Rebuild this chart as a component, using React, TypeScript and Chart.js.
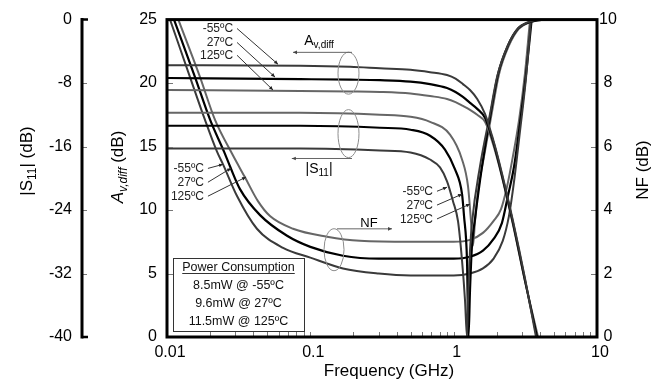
import { useEffect, useRef } from 'react';
import { Chart, registerables } from 'chart.js';
Chart.register(...registerables);

const FONT = "'Liberation Sans', Arial, Helvetica, sans-serif";

// ---------- data ----------
const xTickValues = [0.01, 0.1, 1, 10];
const minorDecades = [0.01, 0.1, 1];
const avInnerTicks = [5, 10, 15, 20];
const nfInnerTicks = [2, 4, 6, 8];
const s11InnerTicks = [-8, -16, -24, -32];
const temps = ['-55ºC', '27ºC', '125ºC'];
const powerLines = ['8.5mW @ -55ºC', '9.6mW @ 27ºC', '11.5mW @ 125ºC'];

// Av,diff (dB)
const avFreqM55 = [0.01, 0.085, 0.19, 0.306, 0.5, 0.684, 0.899, 1.03, 1.16, 1.3, 1.46, 1.654, 1.851, 2.072, 2.594, 3.146, 3.754];
const avM55 = [21.4, 21.37, 21.29, 21.17, 21.05, 20.86, 20.63, 20.35, 19.92, 19.45, 18.75, 17.58, 15.86, 13.83, 9.14, 4.61, 0];
const avFreq27 = [0.01, 0.085, 0.19, 0.306, 0.5, 0.684, 0.899, 1.03, 1.16, 1.3, 1.46, 1.654, 1.851, 2.072, 2.594, 3.146, 3.815];
const av27 = [20.4, 20.31, 20.27, 20.23, 20.12, 19.92, 19.61, 19.3, 18.91, 18.44, 17.97, 17.27, 15.7, 13.67, 8.98, 4.45, 0];
const avFreq125 = [0.01, 0.085, 0.19, 0.306, 0.5, 0.684, 0.899, 1.03, 1.16, 1.3, 1.46, 1.654, 1.851, 2.072, 2.594, 3.146, 3.88];
const av125 = [19.45, 19.38, 19.34, 19.3, 19.18, 18.98, 18.75, 18.5, 18.2, 17.89, 17.5, 16.95, 15.47, 13.52, 8.83, 4.38, 0];

// |S11| (dB)
const s11FreqM55 = [0.01, 0.085, 0.306, 0.5, 0.684, 0.803, 0.899, 0.989, 1.072, 1.144, 1.2, 1.239, 1.259, 1.3, 1.342, 1.526, 1.793, 2.006, 2.356, 2.767, 3.249, 4.34, 10];
const s11M55 = [-16.25, -16.25, -16.5, -16.75, -17.63, -18.63, -20.38, -22.88, -25.38, -30.38, -35.38, -40, -35.38, -29.13, -25.63, -18.5, -11.88, -7.25, -3.5, -1.25, -0.38, 0, 0];
const s11Freq27 = [0.01, 0.085, 0.306, 0.5, 0.684, 0.87, 1.022, 1.144, 1.181, 1.239, 1.269, 1.3, 1.342, 1.409, 1.577, 1.822, 2.039, 2.394, 2.811, 3.302, 4.48, 10];
const s1127 = [-13.38, -13.38, -13.63, -13.88, -14.63, -16.38, -18.88, -22.0, -24.75, -30.38, -40, -34.13, -28.5, -25.13, -18.5, -11.63, -6.88, -3.25, -1.13, -0.38, 0, 0];
const s11Freq125 = [0.01, 0.085, 0.306, 0.5, 0.684, 0.943, 1.144, 1.259, 1.321, 1.364, 1.409, 1.479, 1.628, 1.851, 2.072, 2.433, 2.856, 3.356, 4.7, 10];
const s11125 = [-11.75, -11.75, -12.0, -12.25, -12.88, -14.5, -17.63, -21.0, -25.38, -28.5, -25.38, -21.63, -17.25, -11.63, -6.88, -3.25, -1.13, -0.38, 0, 0];

// NF (dB)
const nfFreqM55 = [0.0105, 0.01447, 0.01841, 0.02233, 0.0246, 0.0308, 0.0424, 0.0645, 0.1, 0.169, 0.3, 0.5, 1.0, 1.3, 1.6, 1.9, 2.2, 2.43, 2.64, 2.9, 3.2, 3.46];
const nfM55 = [10, 8.19, 6.84, 5.84, 5.44, 4.44, 3.41, 2.81, 2.5, 2.16, 2.0, 1.94, 1.94, 2.0, 2.16, 2.47, 3.03, 3.81, 4.91, 6.47, 8.19, 10];
const nfFreq27 = [0.01119, 0.01568, 0.02, 0.025, 0.0275, 0.0323, 0.0446, 0.0688, 0.1, 0.169, 0.3, 0.5, 1.0, 1.3, 1.6, 1.9, 2.17, 2.39, 2.64, 2.9, 3.2, 3.5];
const nf27 = [10, 8.19, 6.84, 5.84, 5.38, 4.66, 3.84, 3.19, 2.84, 2.56, 2.47, 2.47, 2.47, 2.53, 2.72, 3.09, 3.59, 4.44, 5.38, 6.72, 8.28, 10];
const nfFreq125 = [0.012, 0.017, 0.02163, 0.0284, 0.035, 0.0431, 0.0523, 0.0757, 0.1307, 0.222, 0.5, 1.0, 1.3, 1.6, 1.9, 2.14, 2.36, 2.59, 2.86, 3.15, 3.41];
const nf125 = [10, 8.19, 6.84, 5.78, 5.03, 4.28, 3.81, 3.41, 3.16, 3.03, 3.0, 3.0, 3.06, 3.28, 3.66, 4.03, 4.75, 5.69, 6.84, 8.34, 10];

// annotations in data coordinates (frequency GHz, value on the Av axis)
const ellipses = [
  { f: 0.1846, v: 20.78, rx: 10.5, ry: 21 },
  { f: 0.1846, v: 16.02, rx: 10.5, ry: 24 },
  { f: 0.1463, v: 6.875, rx: 10, ry: 21 },
];
const groupArrows = [
  { from: [0.1953, 22.42], to: [0.0757, 22.42] },
  { from: [0.1953, 14.06], to: [0.0743, 14.06] },
  { from: [0.1535, 8.52], to: [0.3713, 8.52] },
];
const tempGroups = [
  { textF: 0.0289, startF: 0.0308, rows: [24.3, 23.2, 22.19], tips: [[0.0595, 21.48], [0.0567, 20.47], [0.0549, 19.45]] },
  { textF: 0.01811, startF: 0.0193, rows: [13.28, 12.19, 11.09], tips: [[0.0246, 13.6], [0.028, 13.3], [0.0356, 12.6]] },
  { textF: 0.7176, startF: 0.765, rows: [11.48, 10.39, 9.3], tips: [[0.899, 11.8], [1.144, 11.25], [1.3, 10.47]] },
];

const colors = ['#3a3a3a', '#000000', '#666666'];

type Seg = { t: string; size: number; italic?: boolean; dy?: number };

function drawRich(ctx: CanvasRenderingContext2D, segs: Seg[], cx: number, cy: number, rot: number, base: number) {
  ctx.save();
  ctx.translate(cx, cy);
  ctx.rotate(rot);
  const widths = segs.map((s) => {
    ctx.font = `${s.italic ? 'italic ' : ''}${s.size}px ${FONT}`;
    return ctx.measureText(s.t).width;
  });
  const total = widths.reduce((a, b) => a + b, 0);
  let x = -total / 2;
  ctx.textAlign = 'left';
  ctx.textBaseline = 'alphabetic';
  ctx.fillStyle = '#000';
  segs.forEach((s, i) => {
    ctx.font = `${s.italic ? 'italic ' : ''}${s.size}px ${FONT}`;
    ctx.fillText(s.t, x, base * 0.36 + (s.dy || 0));
    x += widths[i];
  });
  ctx.restore();
}

function arrow(ctx: CanvasRenderingContext2D, x1: number, y1: number, x2: number, y2: number, head: number) {
  ctx.beginPath();
  ctx.moveTo(x1, y1);
  ctx.lineTo(x2, y2);
  ctx.stroke();
  const a = Math.atan2(y2 - y1, x2 - x1);
  const w = head * 0.45;
  ctx.beginPath();
  ctx.moveTo(x2, y2);
  ctx.lineTo(x2 - head * Math.cos(a) + w * Math.sin(a), y2 - head * Math.sin(a) - w * Math.cos(a));
  ctx.lineTo(x2 - head * Math.cos(a) - w * Math.sin(a), y2 - head * Math.sin(a) + w * Math.cos(a));
  ctx.closePath();
  ctx.fill();
}

const decor = {
  id: 'decor',
  afterDraw(chart: any) {
    const ctx: CanvasRenderingContext2D = chart.ctx;
    const { left, right, top, bottom } = chart.chartArea;
    const xs = chart.scales.x;
    const ya = chart.scales.y;
    const ys = chart.scales.yS11;
    const yn = chart.scales.yNF;
    const X = (f: number) => xs.getPixelForValue(f);
    const Y = (v: number) => ya.getPixelForValue(v);
    ctx.save();

    // inner ticks
    ctx.strokeStyle = '#777';
    ctx.lineWidth = 1;
    ctx.beginPath();
    minorDecades.forEach((d) => {
      for (let m = 1; m <= 9; m++) {
        const f = d * m;
        if (f <= 0.01) continue;
        const px = Math.round(X(f)) + 0.5;
        ctx.moveTo(px, bottom);
        ctx.lineTo(px, bottom - 5);
      }
    });
    avInnerTicks.forEach((v) => {
      const py = Math.round(Y(v)) + 0.5;
      ctx.moveTo(left, py);
      ctx.lineTo(left + 6, py);
    });
    nfInnerTicks.forEach((v) => {
      const py = Math.round(yn.getPixelForValue(v)) + 0.5;
      ctx.moveTo(right, py);
      ctx.lineTo(right - 6, py);
    });
    const sx = ys.right;
    s11InnerTicks.forEach((v) => {
      const py = Math.round(ys.getPixelForValue(v)) + 0.5;
      ctx.moveTo(sx, py);
      ctx.lineTo(sx + 5, py);
    });
    ctx.stroke();

    // frame
    ctx.strokeStyle = '#000';
    ctx.lineWidth = 3;
    ctx.strokeRect(left, top, right - left, bottom - top);

    // S11 axis line with end caps
    ctx.beginPath();
    ctx.moveTo(sx, top - 1.5);
    ctx.lineTo(sx, bottom + 1.5);
    ctx.stroke();
    ctx.lineWidth = 2.5;
    ctx.beginPath();
    ctx.moveTo(sx, top);
    ctx.lineTo(sx + 6, top);
    ctx.moveTo(sx, bottom);
    ctx.lineTo(sx + 6, bottom);
    ctx.stroke();

    // ellipses
    ctx.strokeStyle = '#8c8c8c';
    ctx.lineWidth = 1;
    ellipses.forEach((e) => {
      ctx.beginPath();
      ctx.ellipse(X(e.f), Y(e.v), e.rx, e.ry, 0, 0, Math.PI * 2);
      ctx.stroke();
    });

    // group arrows
    ctx.strokeStyle = '#666';
    ctx.fillStyle = '#444';
    groupArrows.forEach((a) => arrow(ctx, X(a.from[0]), Y(a.from[1]), X(a.to[0]), Y(a.to[1]), 4));

    // group labels
    drawRich(ctx, [{ t: 'A', size: 14 }, { t: 'v,diff', size: 10, dy: 3 }], X(0.115), Y(23.36), 0, 14);
    drawRich(ctx, [{ t: '|S', size: 14 }, { t: '11', size: 10, dy: 3 }, { t: '|', size: 14 }], X(0.115), Y(13.28), 0, 14);
    drawRich(ctx, [{ t: 'NF', size: 13 }], X(0.2566), Y(9.06), 0, 13);

    // temperature labels + arrows
    ctx.font = `12px ${FONT}`;
    ctx.textAlign = 'right';
    ctx.textBaseline = 'middle';
    tempGroups.forEach((g) => {
      g.rows.forEach((v, i) => {
        ctx.fillStyle = '#222';
        ctx.fillText(temps[i], X(g.textF), Y(v) + 0.5);
        ctx.strokeStyle = '#333';
        ctx.fillStyle = '#222';
        arrow(ctx, X(g.startF), Y(v), X(g.tips[i][0]), Y(g.tips[i][1]), 4);
      });
    });

    // power consumption box
    const bx = left + 6;
    const by = bottom - 79;
    const bw = 131;
    const bh = 73;
    ctx.fillStyle = '#fff';
    ctx.fillRect(bx, by, bw, bh);
    ctx.strokeStyle = '#333';
    ctx.lineWidth = 1;
    ctx.strokeRect(bx + 0.5, by + 0.5, bw, bh);
    ctx.fillStyle = '#111';
    ctx.textAlign = 'center';
    ctx.textBaseline = 'alphabetic';
    ctx.font = `12.5px ${FONT}`;
    const cx = bx + bw / 2;
    ctx.fillText('Power Consumption', cx, by + 13);
    const tw = ctx.measureText('Power Consumption').width;
    ctx.beginPath();
    ctx.moveTo(cx - tw / 2, by + 15.5);
    ctx.lineTo(cx + tw / 2, by + 15.5);
    ctx.stroke();
    powerLines.forEach((t, i) => ctx.fillText(t, cx, by + 31 + i * 18));

    // axis titles
    drawRich(ctx, [{ t: '|S', size: 17 }, { t: '11', size: 12, dy: 4 }, { t: '| (dB)', size: 17 }], 25.5, 161, -Math.PI / 2, 17);
    drawRich(ctx, [{ t: 'A', size: 17, italic: true }, { t: 'v,diff', size: 12, italic: true, dy: 4 }, { t: ' (dB)', size: 17 }], 117, 167, -Math.PI / 2, 17);
    drawRich(ctx, [{ t: 'NF (dB)', size: 17 }], 642, 170, -Math.PI / 2, 17);
    drawRich(ctx, [{ t: 'Frequency (GHz)', size: 17 }], 389, 370, 0, 17);

    ctx.restore();
  },
};

function pts(fs: number[], vs: number[]) {
  return fs.map((f, i) => ({ x: f, y: vs[i] }));
}

function ds(label: string, fs: number[], vs: number[], axis: string, i: number) {
  return {
    label,
    data: pts(fs, vs),
    yAxisID: axis,
    borderColor: colors[i],
    borderWidth: i === 1 ? 2.2 : 2,
    pointRadius: 0,
    fill: false,
    cubicInterpolationMode: 'monotone' as const,
  };
}

export default function App() {
  const ref = useRef<HTMLCanvasElement>(null);
  useEffect(() => {
    if (!ref.current) return;
    const tickFont = { family: FONT, size: 16 };
    const chart = new Chart(ref.current, {
      type: 'line',
      data: {
        datasets: [
          ds('Av -55', avFreqM55, avM55, 'y', 0),
          ds('Av 27', avFreq27, av27, 'y', 1),
          ds('Av 125', avFreq125, av125, 'y', 2),
          ds('S11 -55', s11FreqM55, s11M55, 'yS11', 0),
          ds('S11 27', s11Freq27, s1127, 'yS11', 1),
          ds('S11 125', s11Freq125, s11125, 'yS11', 2),
          ds('NF -55', nfFreqM55, nfM55, 'yNF', 0),
          ds('NF 27', nfFreq27, nf27, 'yNF', 1),
          ds('NF 125', nfFreq125, nf125, 'yNF', 2),
        ],
      },
      options: {
        responsive: false,
        animation: false,
        devicePixelRatio: 1,
        layout: { padding: { top: 17, left: 0, right: 0, bottom: 0 } },
        plugins: { legend: { display: false }, tooltip: { enabled: false } },
        scales: {
          x: {
            type: 'logarithmic',
            position: 'bottom',
            min: 0.01,
            max: 10,
            afterBuildTicks: (s: any) => {
              s.ticks = xTickValues.map((v) => ({ value: v }));
            },
            afterFit: (s: any) => {
              s.height = 51;
            },
            ticks: {
              font: tickFont,
              color: '#000',
              padding: 6,
              labelOffset: 3,
              maxRotation: 0,
              autoSkip: false,
              callback: (v: any) => String(v),
            },
            grid: { display: false, drawTicks: false },
            border: { display: false },
          },
          y: {
            position: 'left',
            weight: 0,
            min: 0,
            max: 25,
            afterFit: (s: any) => {
              s.width = 85;
            },
            ticks: { stepSize: 5, font: tickFont, color: '#000', padding: 10 },
            grid: { display: false, drawTicks: false },
            border: { display: false },
          },
          yS11: {
            position: 'left',
            weight: 1,
            min: -40,
            max: 0,
            afterFit: (s: any) => {
              s.width = 82;
            },
            ticks: { stepSize: 8, font: tickFont, color: '#000', padding: 10 },
            grid: { display: false, drawTicks: false },
            border: { display: false },
          },
          yNF: {
            position: 'right',
            min: 0,
            max: 10,
            afterFit: (s: any) => {
              s.width = 58;
            },
            ticks: { stepSize: 2, font: tickFont, color: '#000', padding: 2, crossAlign: 'center' },
            grid: { display: false, drawTicks: false },
            border: { display: false },
          },
        },
      } as any,
      plugins: [decor],
    });
    return () => chart.destroy();
  }, []);
  return (
    <div style={{ position: 'fixed', left: 0, top: 0, width: 655, height: 388, background: '#fff' }}>
      <canvas ref={ref} width={655} height={388} style={{ width: 655, height: 388, display: 'block' }} />
    </div>
  );
}
